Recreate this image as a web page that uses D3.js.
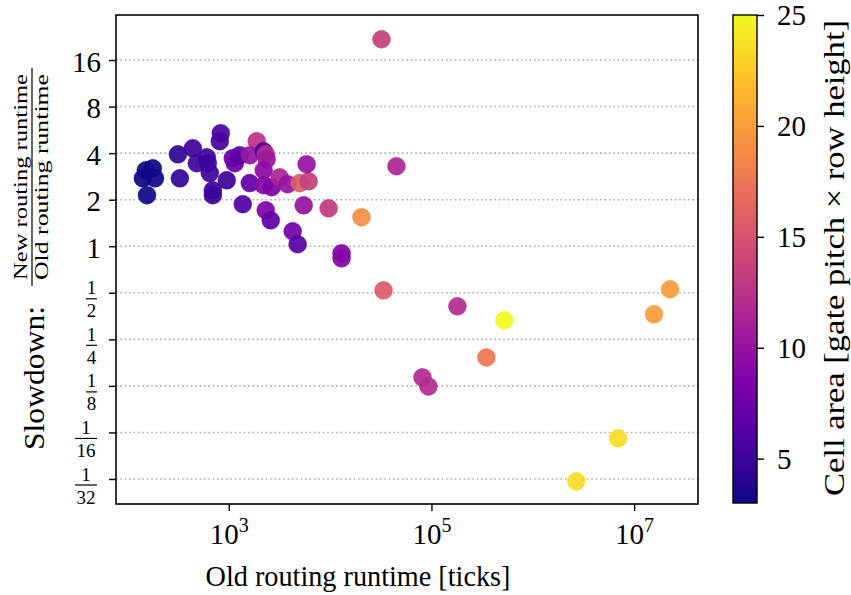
<!DOCTYPE html>
<html>
<head>
<meta charset="utf-8">
<script src="https://cdn.jsdelivr.net/npm/d3@7"></script>
<style>
body{margin:0;background:#fff;}
text{font-family:"Liberation Serif","DejaVu Serif",serif;fill:#000;}
</style>
</head>
<body>
<script>
// data: old runtime [ticks], slowdown ratio, cell area
var oldRuntime = [152,178,142,187,156, 315,329,442,484,607,621,650,696,696,834,815,955,
  1095,1146,1282,1374,1611,1888,1611,2213,2317,2367,2213,2213,2653,3179,3811,5012,6141,
  5866,5486,9662,2317,2593,4273,4786,12970,12970,20420,32140,45170,33650,180300,524000,
  22640000,15740000,348300,81470,93330,6950000,2690000];
var slowdown = [3.10,3.19,2.75,2.75,2.14, 3.93,2.75,4.30,3.44,3.76,3.44,2.97,2.30,2.14,5.38,4.78,2.67,
  3.71,3.44,3.88,1.87,2.56,4.78,3.88,4.11,3.93,3.65,3.10,2.48,2.41,2.79,2.52,2.56,2.63,
  3.39,1.84,1.76,1.71,1.47,1.25,1.03,0.901,0.836,1.54,21.8,3.29,0.519,0.409,0.332,
  0.527,0.363,0.191,0.142,0.124,0.0573,0.0302];
var cellArea = [3.0,3.0,3.0,3.2,3.1, 4.3,4.5,5,5,5,5.2,5,4.8,4.8,5.5,5.5,5,
  7.5,7.5,6.5,6,7,12.5,10,6,12,10.5,9.5,9,8.5,11.5,10,15.5,13.5,
  10,10,13,8.5,7,8,6.5,9,9,19,13.5,11.5,15.5,12,25,
  20,20,17.5,12,12,23.5,23.5];

var xTicks = [1e3,1e5,1e7];
var xTickExp = ["3","5","7"];
var yTicks = [16,8,4,2,1,1/2,1/4,1/8,1/16,1/32];
var yTickNum = ["16","8","4","2","1","1","1","1","1","1"];
var yTickDen = ["","","","","","2","4","8","16","32"];
var cTicks = [5,10,15,20,25];

var W = 851, H = 595;
var x0 = 116, x1 = 698, y0 = 15, y1 = 504;
var cbx0 = 733, cbx1 = 757;
var big = "29px", small = "19px";

var svg = d3.select("body").append("svg")
  .attr("width", W).attr("height", H);

var x = d3.scaleLog().domain([77.1, 4.27e7]).range([x0, x1]);
var y = d3.scaleLog().base(2).domain([Math.pow(2,-5.537), Math.pow(2,4.967)]).range([y1, y0]);
var c = d3.scaleSequential(d3.interpolatePlasma).domain([3, 25]);
var cy = d3.scaleLinear().domain([3, 25]).range([y1 - 1, y0]);

// dotted grid
svg.append("g").selectAll("line").data(yTicks).join("line")
  .attr("x1", x0).attr("x2", x1)
  .attr("y1", function(d){return y(d);}).attr("y2", function(d){return y(d);})
  .attr("stroke", "#aaaaaa").attr("stroke-width", 1.6)
  .attr("stroke-dasharray", "1.6,2.8");

// points
svg.append("g").selectAll("circle").data(oldRuntime).join("circle")
  .attr("cx", function(d){return x(d);})
  .attr("cy", function(d,i){return y(slowdown[i]);})
  .attr("r", 9)
  .attr("fill", function(d,i){return c(cellArea[i]);})
  .attr("fill-opacity", 0.93)
  .attr("stroke", function(d,i){return c(cellArea[i]);})
  .attr("stroke-opacity", 0.5)
  .attr("stroke-width", 0.8);

// frame
svg.append("rect").attr("x", x0).attr("y", y0)
  .attr("width", x1 - x0).attr("height", y1 - y0)
  .attr("fill", "none").attr("stroke", "#000").attr("stroke-width", 1.6);

// x axis
var gx = svg.append("g").attr("transform", "translate(0," + y1 + ")")
  .call(d3.axisBottom(x).tickValues(xTicks).tickSize(7).tickFormat(function(){return "";}));
gx.select(".domain").remove();
gx.selectAll(".tick line").attr("stroke-width", 1.4);
gx.selectAll(".tick").each(function(d,i){
  var t = d3.select(this).append("text").attr("x", 0).attr("y", 40)
    .attr("text-anchor", "middle").style("font-size", big);
  t.append("tspan").text("10");
  t.append("tspan").attr("dy", -12).style("font-size", "20px").text(xTickExp[i]);
});
svg.append("text").attr("x", 358).attr("y", 586)
  .attr("text-anchor", "middle").style("font-size", big)
  .attr("textLength", 305).attr("lengthAdjust", "spacingAndGlyphs")
  .text("Old routing runtime [ticks]");

// y axis
var gy = svg.append("g").attr("transform", "translate(" + x0 + ",0)")
  .call(d3.axisLeft(y).tickValues(yTicks).tickSize(7).tickFormat(function(){return "";}));
gy.select(".domain").remove();
gy.selectAll(".tick line").attr("stroke-width", 1.4);
gy.selectAll(".tick").each(function(d,i){
  var g = d3.select(this);
  if (yTickDen[i] === "") {
    g.append("text").attr("x", -15).attr("y", 11).attr("text-anchor", "end")
      .style("font-size", big).text(yTickNum[i]);
  } else {
    var bw = yTickDen[i].length > 1 ? 22 : 11;
    var cx = -19 - bw / 2;
    g.append("line").attr("x1", -19 - bw).attr("x2", -19)
      .attr("y1", 5.5).attr("y2", 5.5).attr("stroke", "#000").attr("stroke-width", 1.2);
    g.append("text").attr("x", cx).attr("y", 1).attr("text-anchor", "middle")
      .style("font-size", small).text(yTickNum[i]);
    g.append("text").attr("x", cx).attr("y", 24).attr("text-anchor", "middle")
      .style("font-size", small).text(yTickDen[i]);
  }
});

// y label
var yl = svg.append("g").attr("transform", "translate(32,177) rotate(-90)");
yl.append("line").attr("x1", -109).attr("x2", 109).attr("y1", 0).attr("y2", 0)
  .attr("stroke", "#000").attr("stroke-width", 1.2);
yl.append("text").attr("y", -5).attr("text-anchor", "middle").style("font-size", small)
  .attr("textLength", 206).attr("lengthAdjust", "spacingAndGlyphs")
  .text("New routing runtime");
yl.append("text").attr("y", 16).attr("text-anchor", "middle").style("font-size", small)
  .attr("textLength", 206).attr("lengthAdjust", "spacingAndGlyphs")
  .text("Old routing runtime");
svg.append("text").attr("transform", "translate(44,378) rotate(-90)")
  .attr("text-anchor", "middle").style("font-size", big)
  .attr("textLength", 144).attr("lengthAdjust", "spacingAndGlyphs")
  .text("Slowdown:");

// colorbar
var grad = svg.append("defs").append("linearGradient").attr("id", "cb")
  .attr("x1", 0).attr("x2", 0).attr("y1", 1).attr("y2", 0);
grad.selectAll("stop").data(d3.range(0, 1.0001, 0.05)).join("stop")
  .attr("offset", function(d){return d;})
  .attr("stop-color", function(d){return d3.interpolatePlasma(d);});
svg.append("rect").attr("x", cbx0).attr("y", y0).attr("width", cbx1 - cbx0)
  .attr("height", y1 - 1 - y0).attr("fill", "url(#cb)")
  .attr("stroke", "#000").attr("stroke-width", 1.4);
var gc = svg.append("g").attr("transform", "translate(" + cbx1 + ",0)")
  .call(d3.axisRight(cy).tickValues(cTicks).tickSize(7).tickPadding(13));
gc.select(".domain").remove();
gc.selectAll(".tick line").attr("stroke-width", 1.4);
gc.selectAll(".tick text").style("font-size", big).attr("dy", "0.33em");
svg.append("text").attr("transform", "translate(844,258) rotate(-90)")
  .attr("text-anchor", "middle").style("font-size", big)
  .attr("textLength", 476).attr("lengthAdjust", "spacingAndGlyphs")
  .text("Cell area [gate pitch \u00d7 row height]");
</script>
</body>
</html>
